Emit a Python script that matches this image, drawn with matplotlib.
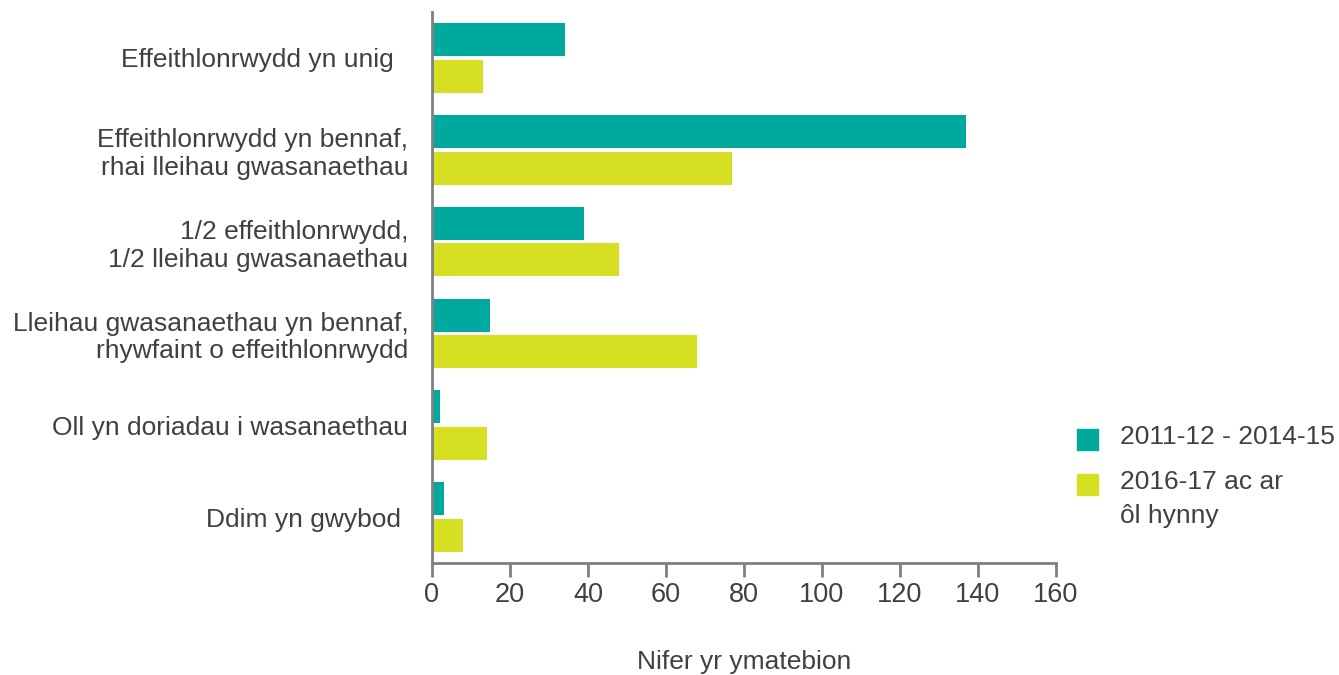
import numpy as np
import matplotlib.pyplot as plt
from matplotlib.patches import Rectangle

plt.rcParams['font.family'] = ['Liberation Sans', 'DejaVu Sans']

categories = [
    "Effeithlonrwydd yn unig  ",
    "Effeithlonrwydd yn bennaf,\nrhai lleihau gwasanaethau",
    "1/2 effeithlonrwydd,\n1/2 lleihau gwasanaethau",
    "Lleihau gwasanaethau yn bennaf,\nrhywfaint o effeithlonrwydd",
    "Oll yn doriadau i wasanaethau",
    "Ddim yn gwybod ",
]
series_names = ["2011-12 - 2014-15", "2016-17 ac ar\nôl hynny"]
early = [34, 137, 39, 15, 2, 3]
late = [13, 77, 48, 68, 14, 8]
xticks = [0, 20, 40, 60, 80, 100, 120, 140, 160]

teal = "#00A99D"
yellow = "#D7DF23"
text_col = "#404040"
axis_col = "#808080"
fs = 19

W, H = 1339, 675
fig = plt.figure(figsize=(W / 100, H / 100), dpi=100)
ax = fig.add_axes([0.3226, 0.1659, 0.4660, 0.8163])

y = np.arange(len(categories))
h = 0.36
ax.barh(y - h / 2 - 0.02, early, height=h, color=teal)
ax.barh(y + h / 2 + 0.02, late, height=h, color=yellow)

ax.set_ylim(5.5, -0.5)
ax.set_xlim(0, 160)
ax.set_yticks(y)
ax.set_yticklabels(categories, fontsize=fs, color=text_col, linespacing=1.18)
ax.tick_params(axis='y', length=0, pad=17)
ax.set_xticks(xticks)
ax.set_xticklabels([str(t) for t in xticks], fontsize=19.5, color=text_col)
ax.tick_params(axis='x', length=10, width=2, color=axis_col, pad=4)

for s in ['top', 'right']:
    ax.spines[s].set_visible(False)
for s in ['left', 'bottom']:
    ax.spines[s].set_color(axis_col)
    ax.spines[s].set_linewidth(2)
ax.spines['left'].set_bounds(5.5, -0.5)

fig.text(0.5556, 1 - 662 / H, "Nifer yr ymatebion", fontsize=fs,
         color=text_col, ha='center', va='center')

# legend drawn by hand so the swatch lines up with the first text line
for name, col, top in zip(series_names, [teal, yellow], [429, 474]):
    fig.patches.append(Rectangle((1077 / W, 1 - (top + 21) / H), 21 / W, 21 / H,
                                 transform=fig.transFigure, color=col))
    fig.text(1120 / W, 1 - (top - 4) / H, name, fontsize=fs, color=text_col,
             ha='left', va='top', linespacing=1.55)

fig.savefig("out.png", dpi=100)
